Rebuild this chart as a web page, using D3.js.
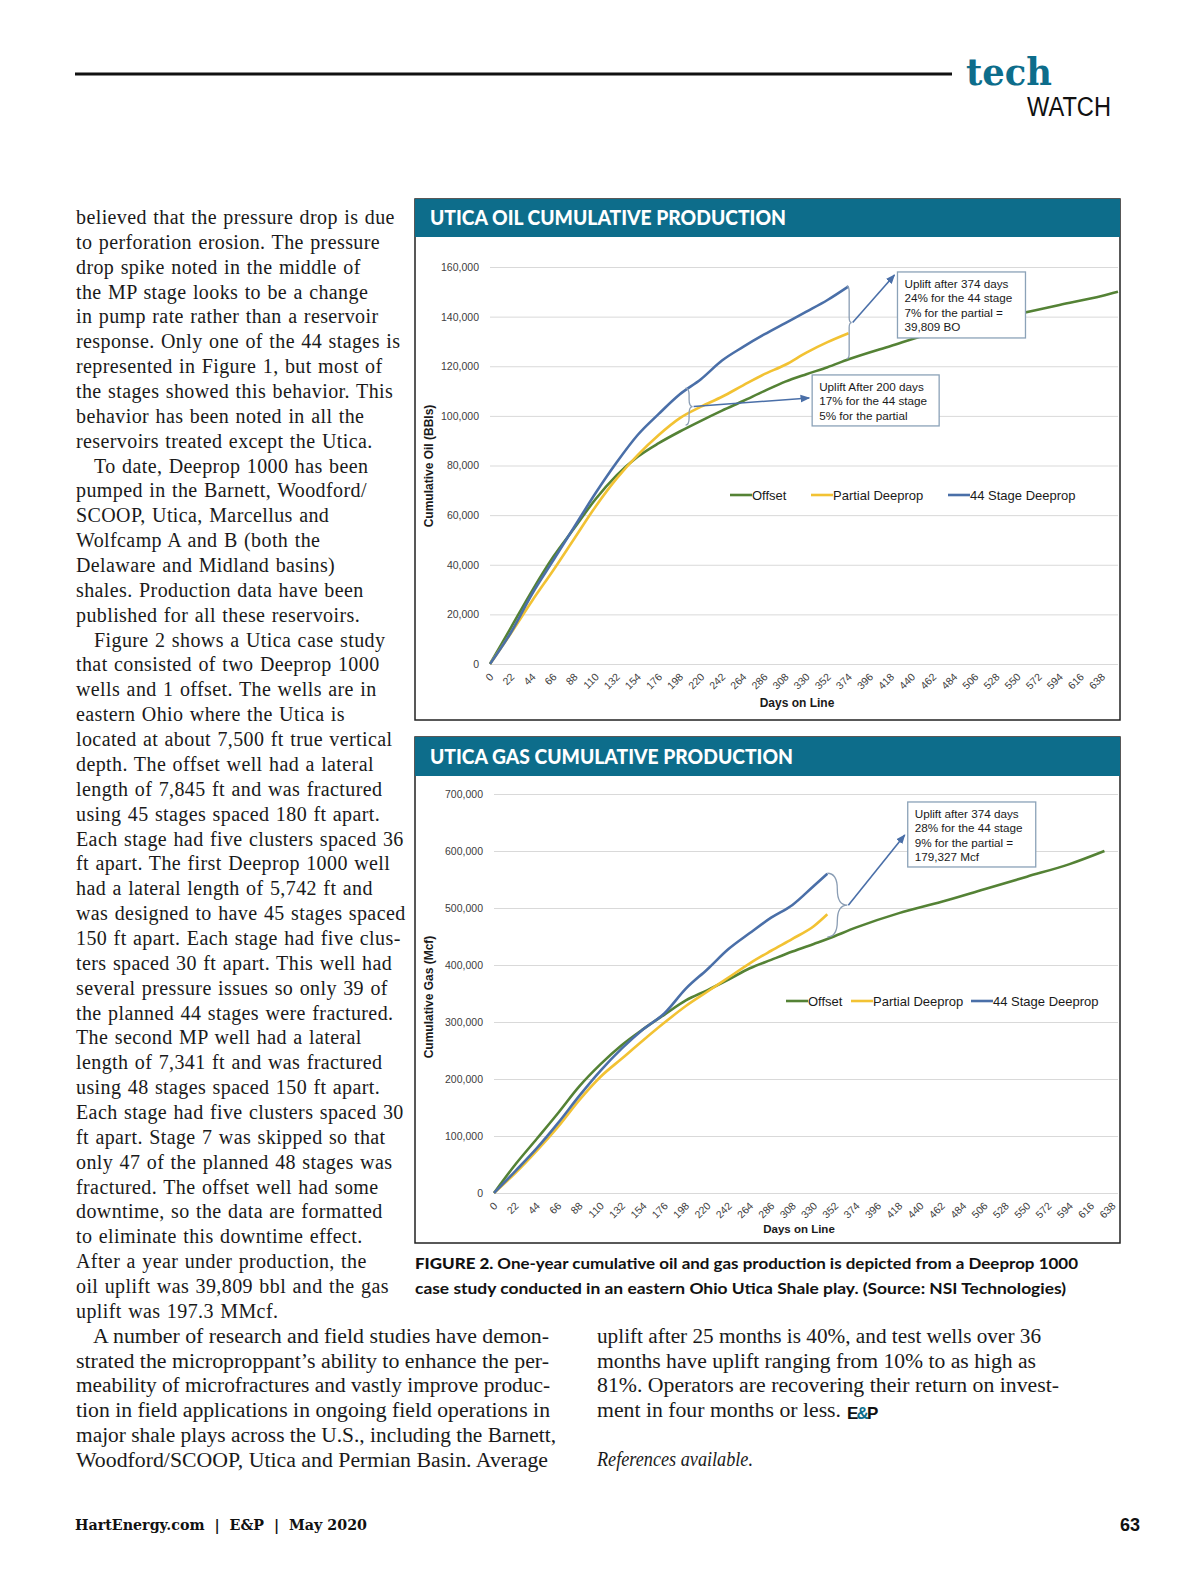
<!DOCTYPE html>
<html>
<head>
<meta charset="utf-8">
<script src="https://cdn.jsdelivr.net/npm/d3@7"></script>
<style>
  html, body { margin: 0; padding: 0; overflow: hidden; background: #fff; }
  svg { display: block; }
</style>
</head>
<body>
<svg id="page"></svg>
<script>
const WIDTH = 1200;
const HEIGHT = 1575;
const TEAL = '#0d6d8b';
const SANS = '"Liberation Sans", Arial, sans-serif';
const SERIF = '"Liberation Serif", "Times New Roman", serif';
const HEAVY = 'Lato, "Noto Sans", sans-serif';

// ---- chart data ----
const seriesNames = ['Offset', 'Partial Deeprop', '44 Stage Deeprop'];
const seriesColors = ['#548235', '#f2c233', '#4a6fa8'];

const dayTicks = d3.range(0, 639, 22); // 0, 22, ... 638

const oilDays = [0, 22, 44, 66, 88, 110, 132, 154, 176, 198, 220, 242, 264, 286, 308, 330, 352, 374,
  418, 462, 506, 550, 594, 638, 655];
const oilOffset = [0, 14800, 29600, 43200, 54800, 66400, 76000, 83500, 89000, 93700, 98000, 102100,
  106000, 110000, 113800, 116800, 119600, 122800, 128200, 133400, 137300, 141000, 144700, 148300, 150000];
const oilPartial = [0, 12500, 25500, 37800, 50600, 63400, 74700, 84200, 92300, 99100, 103700, 107700,
  112300, 116800, 120600, 125500, 129700, 133300];
const oilStage44 = [0, 12800, 28300, 41800, 55300, 68800, 81200, 92300, 100800, 108700, 114800, 122300,
  127800, 132800, 137400, 142000, 146700, 152200];
const oilTicks = d3.range(0, 160001, 20000);

const gasDays = [0, 22, 44, 66, 88, 110, 132, 154, 176, 198, 220, 242, 264, 286, 308, 330, 344,
  374, 418, 462, 506, 550, 594, 630];
const gasOffset = [0, 50000, 94800, 140000, 187000, 226000, 259600, 287500, 313000, 337800, 355600,
  374600, 394200, 409000, 423600, 437000, 445600, 466000, 491000, 511000, 533000, 555000, 577000, 600000];
const gasPartial = [0, 35000, 74000, 116000, 163000, 204000, 236000, 268000, 299000, 328000, 353000,
  378000, 403000, 425000, 446000, 468000, 489000];
const gasStage44 = [0, 38400, 78200, 122500, 170300, 214700, 253700, 287200, 315400, 358500, 392200,
  428000, 456100, 483000, 505400, 538700, 560000];
const gasTicks = d3.range(0, 700001, 100000);

// annotation texts
const oilNote374 = ['Uplift after 374 days', '24% for the 44 stage', '7% for the partial =', '39,809 BO'];
const oilNote200 = ['Uplift After 200 days', '17% for the 44 stage', '5% for the partial'];
const gasNote374 = ['Uplift after 374 days', '28% for the 44 stage', '9% for the partial =', '179,327 Mcf'];

// ---- page text ----
const leftLines = [
  'believed that the pressure drop is due',
  'to perforation erosion. The pressure',
  'drop spike noted in the middle of',
  'the MP stage looks to be a change',
  'in pump rate rather than a reservoir',
  'response. Only one of the 44 stages is',
  'represented in Figure 1, but most of',
  'the stages showed this behavior. This',
  'behavior has been noted in all the',
  'reservoirs treated except the Utica.',
  'To date, Deeprop 1000 has been',
  'pumped in the Barnett, Woodford/',
  'SCOOP, Utica, Marcellus and',
  'Wolfcamp A and B (both the',
  'Delaware and Midland basins)',
  'shales. Production data have been',
  'published for all these reservoirs.',
  'Figure 2 shows a Utica case study',
  'that consisted of two Deeprop 1000',
  'wells and 1 offset. The wells are in',
  'eastern Ohio where the Utica is',
  'located at about 7,500 ft true vertical',
  'depth. The offset well had a lateral',
  'length of 7,845 ft and was fractured',
  'using 45 stages spaced 180 ft apart.',
  'Each stage had five clusters spaced 36',
  'ft apart. The first Deeprop 1000 well',
  'had a lateral length of 5,742 ft and',
  'was designed to have 45 stages spaced',
  '150 ft apart. Each stage had five clus-',
  'ters spaced 30 ft apart. This well had',
  'several pressure issues so only 39 of',
  'the planned 44 stages were fractured.',
  'The second MP well had a lateral',
  'length of 7,341 ft and was fractured',
  'using 48 stages spaced 150 ft apart.',
  'Each stage had five clusters spaced 30',
  'ft apart. Stage 7 was skipped so that',
  'only 47 of the planned 48 stages was',
  'fractured. The offset well had some',
  'downtime, so the data are formatted',
  'to eliminate this downtime effect.',
  'After a year under production, the',
  'oil uplift was 39,809 bbl and the gas',
  'uplift was 197.3 MMcf.'
];
const indentedLines = [10, 17];
const bottomLines = [
  'A number of research and field studies have demon-',
  'strated the microproppant\u2019s ability to enhance the per-',
  'meability of microfractures and vastly improve produc-',
  'tion in field applications in ongoing field operations in',
  'major shale plays across the U.S., including the Barnett,',
  'Woodford/SCOOP, Utica and Permian Basin. Average'
];
const bottomWidths = [456, 473, 474, 474, 480, 472];
const rightLines = [
  'uplift after 25 months is 40%, and test wells over 36',
  'months have uplift ranging from 10% to as high as',
  '81%. Operators are recovering their return on invest-',
  'ment in four months or less.'
];
const rightWidths = [444, 439, 462, 244];
const captionLines = [
  'One-year cumulative oil and gas production is depicted from a Deeprop 1000',
  'case study conducted in an eastern Ohio Utica Shale play. (Source: NSI Technologies)'
];

const svg = d3.select('#page')
  .attr('width', WIDTH)
  .attr('height', HEIGHT)
  .attr('viewBox', `0 0 ${WIDTH} ${HEIGHT}`);

svg.append('rect').attr('width', WIDTH).attr('height', HEIGHT).attr('fill', '#fff');

// arrow head used by the callouts
svg.append('defs').append('marker')
  .attr('id', 'arrow')
  .attr('viewBox', '0 0 10 10')
  .attr('refX', 9).attr('refY', 5)
  .attr('markerWidth', 6).attr('markerHeight', 6)
  .attr('orient', 'auto')
  .append('path').attr('d', 'M0,1 L10,5 L0,9 Z').attr('fill', '#4a6fa8');

// ---- masthead ----
svg.append('line')
  .attr('x1', 75).attr('x2', 952).attr('y1', 74).attr('y2', 74)
  .attr('stroke', '#111').attr('stroke-width', 3);
svg.append('text')
  .attr('x', 966).attr('y', 85)
  .attr('font-family', '"DejaVu Serif", serif').attr('font-weight', 'bold')
  .attr('font-size', 38).attr('fill', TEAL)
  .attr('textLength', 86).attr('lengthAdjust', 'spacingAndGlyphs')
  .text('tech');
svg.append('text')
  .attr('x', 1027).attr('y', 116)
  .attr('font-family', '"Liberation Sans Narrow", "Liberation Sans", sans-serif')
  .attr('font-size', 27).attr('fill', '#111')
  .attr('textLength', 84).attr('lengthAdjust', 'spacingAndGlyphs')
  .text('WATCH');

// ---- body text ----
const LINE = 24.86;
const body = svg.append('g')
  .attr('font-family', SERIF).attr('font-size', 20).attr('fill', '#1a1a1a');

body.selectAll('.left')
  .data(leftLines)
  .join('text')
  .attr('class', 'left')
  .attr('x', (_, i) => indentedLines.includes(i) ? 94 : 76)
  .attr('y', (_, i) => 224 + i * LINE)
  .attr('letter-spacing', 0.4)
  .attr('word-spacing', 1)
  .text(d => d);

body.selectAll('.bottom')
  .data(bottomLines)
  .join('text')
  .attr('class', 'bottom')
  .attr('x', (_, i) => i === 0 ? 93 : 76)
  .attr('y', (_, i) => 1343 + i * 24.7)
  .attr('textLength', (_, i) => bottomWidths[i])
  .attr('lengthAdjust', 'spacingAndGlyphs')
  .text(d => d);

body.selectAll('.right')
  .data(rightLines)
  .join('text')
  .attr('class', 'right')
  .attr('x', 597)
  .attr('y', (_, i) => 1343 + i * 24.7)
  .attr('textLength', (_, i) => rightWidths[i])
  .attr('lengthAdjust', 'spacingAndGlyphs')
  .text(d => d);

const logo = body.append('text')
  .attr('x', 847).attr('y', 1419)
  .attr('font-family', SANS).attr('font-weight', 'bold').attr('font-size', 17)
  .attr('letter-spacing', -1.8).attr('fill', '#111');
logo.append('tspan').text('E');
logo.append('tspan').attr('fill', TEAL).text('&');
logo.append('tspan').text('P');

body.append('text')
  .attr('x', 597).attr('y', 1466)
  .attr('font-style', 'italic')
  .attr('textLength', 156).attr('lengthAdjust', 'spacingAndGlyphs')
  .text('References available.');

// ---- caption ----
const caption = svg.append('g')
  .attr('font-family', HEAVY).attr('font-weight', 700).attr('font-size', 15).attr('fill', '#111');
const cap1 = caption.append('text')
  .attr('x', 415).attr('y', 1269)
  .attr('textLength', 663).attr('lengthAdjust', 'spacingAndGlyphs');
cap1.append('tspan').attr('font-weight', 900).text('FIGURE 2. ');
cap1.append('tspan').text(captionLines[0]);
caption.append('text')
  .attr('x', 415).attr('y', 1294)
  .attr('textLength', 651).attr('lengthAdjust', 'spacingAndGlyphs')
  .text(captionLines[1]);

// ---- footer ----
svg.append('text')
  .attr('x', 75).attr('y', 1530)
  .attr('font-family', '"DejaVu Serif", serif').attr('font-weight', 'bold')
  .attr('font-size', 14).attr('fill', '#111')
  .attr('textLength', 292).attr('lengthAdjust', 'spacingAndGlyphs')
  .attr('xml:space', 'preserve')
  .text('HartEnergy.com  |  E&P  |  May 2020');
svg.append('text')
  .attr('x', 1140).attr('y', 1531)
  .attr('text-anchor', 'end')
  .attr('font-family', SANS).attr('font-weight', 'bold')
  .attr('font-size', 18).attr('fill', '#111')
  .text('63');

// ---- helpers for the charts ----
function bracePath(x, yTop, yBot, w) {
  const ym = (yTop + yBot) / 2;
  const q = Math.min(w, (yBot - yTop) / 4);
  const xm = x + w / 2;
  return `M${x},${yTop} Q${xm},${yTop} ${xm},${yTop + q} L${xm},${ym - q} ` +
    `Q${xm},${ym} ${x + w},${ym} Q${xm},${ym} ${xm},${ym + q} ` +
    `L${xm},${yBot - q} Q${xm},${yBot} ${x},${yBot}`;
}

function drawNote(g, x, y, w, h, lines) {
  g.append('rect')
    .attr('x', x).attr('y', y).attr('width', w).attr('height', h)
    .attr('fill', '#fff').attr('stroke', '#8ba2b8').attr('stroke-width', 1.3);
  g.append('g')
    .attr('font-family', SANS).attr('font-size', 11.7).attr('fill', '#1a1a1a')
    .selectAll('text')
    .data(lines)
    .join('text')
    .attr('x', x + 7)
    .attr('y', (_, i) => y + 16 + i * 14.3)
    .text(d => d);
}

function drawChart(cfg) {
  const g = svg.append('g');
  const [x0, x1] = cfg.xRange;
  const [y0, y1] = cfg.yRange;

  // frame and title band
  g.append('rect')
    .attr('x', 415).attr('y', cfg.boxTop)
    .attr('width', 705).attr('height', cfg.boxBottom - cfg.boxTop)
    .attr('fill', '#fff').attr('stroke', '#222').attr('stroke-width', 1.5);
  g.append('rect')
    .attr('x', 415).attr('y', cfg.boxTop)
    .attr('width', 705).attr('height', cfg.band)
    .attr('fill', TEAL);
  g.append('text')
    .attr('x', 430).attr('y', cfg.boxTop + cfg.band / 2 + 7)
    .attr('font-family', HEAVY).attr('font-weight', 900).attr('font-size', 20)
    .attr('fill', '#fff')
    .attr('textLength', cfg.titleWidth).attr('lengthAdjust', 'spacingAndGlyphs')
    .text(cfg.title);

  const xScale = d3.scaleLinear().domain([0, cfg.xMax]).range([x0, x1]);
  const yScale = d3.scaleLinear().domain([0, cfg.yMax]).range([y0, y1]);

  // y axis with gridlines
  const yAxis = d3.axisLeft(yScale)
    .tickValues(cfg.yTicks)
    .tickFormat(d3.format(','))
    .tickSize(-(x1 - x0))
    .tickPadding(11);
  const gy = g.append('g').attr('transform', `translate(${x0},0)`).call(yAxis);
  gy.select('.domain').remove();
  gy.selectAll('.tick line').attr('stroke', '#d9d9d9').attr('stroke-width', 1);
  gy.selectAll('.tick text')
    .attr('font-family', SANS).attr('font-size', 10.5).attr('fill', '#404040');

  // x axis, rotated day labels
  const xAxis = d3.axisBottom(xScale).tickValues(dayTicks).tickSize(0).tickPadding(0);
  const gx = g.append('g').attr('transform', `translate(0,${y0})`).call(xAxis);
  gx.select('.domain').remove();
  gx.selectAll('.tick text')
    .attr('font-family', SANS).attr('font-size', 10.5).attr('fill', '#404040')
    .attr('text-anchor', 'end')
    .attr('x', 0).attr('y', 0).attr('dy', '0.35em')
    .attr('transform', 'translate(1,11) rotate(-45)');

  // axis titles
  g.append('text')
    .attr('transform', `translate(${cfg.yTitleX},${cfg.yTitleY}) rotate(-90)`)
    .attr('text-anchor', 'middle')
    .attr('font-family', SANS).attr('font-weight', 'bold').attr('font-size', 12)
    .attr('fill', '#1a1a1a')
    .text(cfg.yTitle);
  g.append('text')
    .attr('x', (x0 + x1) / 2 - 7).attr('y', cfg.xTitleY)
    .attr('text-anchor', 'middle')
    .attr('font-family', SANS).attr('font-weight', 'bold').attr('font-size', cfg.xTitleSize)
    .attr('fill', '#1a1a1a')
    .text('Days on Line');

  // series lines
  const line = d3.line()
    .x(d => xScale(d[0]))
    .y(d => yScale(d[1]))
    .curve(d3.curveMonotoneX);
  cfg.series.forEach((values, k) => {
    const points = values.map((v, i) => [cfg.days[i], v]);
    g.append('path')
      .datum(points)
      .attr('fill', 'none')
      .attr('stroke', seriesColors[k])
      .attr('stroke-width', 2.6)
      .attr('stroke-linejoin', 'round')
      .attr('d', line);
  });

  // legend
  const legend = g.append('g')
    .attr('font-family', SANS).attr('font-size', 13).attr('fill', '#1a1a1a');
  seriesNames.forEach((name, k) => {
    const lx = cfg.legendX[k];
    legend.append('line')
      .attr('x1', lx).attr('x2', lx + 22)
      .attr('y1', cfg.legendY).attr('y2', cfg.legendY)
      .attr('stroke', seriesColors[k]).attr('stroke-width', 2.6);
    legend.append('text')
      .attr('x', lx + 22).attr('y', cfg.legendY + 4.5)
      .text(name);
  });

  // callouts
  cfg.notes.forEach(n => {
    const bx = xScale(n.braceDay);
    const bTop = yScale(n.braceTop);
    const bBot = yScale(n.braceBottom);
    g.append('path')
      .attr('d', bracePath(bx, bTop, bBot, n.braceWidth))
      .attr('fill', 'none').attr('stroke', '#8a9db4').attr('stroke-width', 1.3);
    const boxX = xScale(n.boxDay);
    const boxY = yScale(n.boxValue);
    g.append('line')
      .attr('x1', bx + n.braceWidth + 1).attr('y1', (bTop + bBot) / 2)
      .attr('x2', boxX - 3).attr('y2', boxY + n.arrowOffset)
      .attr('stroke', '#4a6fa8').attr('stroke-width', 1.6)
      .attr('marker-end', 'url(#arrow)');
    drawNote(g, boxX, boxY, n.boxW, n.boxH, n.lines);
  });
}

drawChart({
  boxTop: 199, boxBottom: 720, band: 38,
  title: 'UTICA OIL CUMULATIVE PRODUCTION', titleWidth: 356,
  xRange: [490, 1118], xMax: 655,
  yRange: [664, 267], yMax: 160000, yTicks: oilTicks,
  days: oilDays, series: [oilOffset, oilPartial, oilStage44],
  yTitle: 'Cumulative Oil (BBls)', yTitleX: 433, yTitleY: 466,
  xTitleY: 707, xTitleSize: 12,
  legendY: 495, legendX: [730, 811, 948],
  notes: [
    { braceDay: 372, braceTop: 152200, braceBottom: 123000, braceWidth: 5,
      boxDay: 425, boxValue: 158000, boxW: 128, boxH: 66, arrowOffset: 3, lines: oilNote374 },
    { braceDay: 204, braceTop: 111200, braceBottom: 96300, braceWidth: 7,
      boxDay: 336, boxValue: 116500, boxW: 127, boxH: 51, arrowOffset: 23, lines: oilNote200 }
  ]
});

drawChart({
  boxTop: 737, boxBottom: 1243, band: 39,
  title: 'UTICA GAS CUMULATIVE PRODUCTION', titleWidth: 363,
  xRange: [494, 1118], xMax: 644,
  yRange: [1193, 794], yMax: 700000, yTicks: gasTicks,
  days: gasDays, series: [gasOffset, gasPartial, gasStage44],
  yTitle: 'Cumulative Gas (Mcf)', yTitleX: 433, yTitleY: 997,
  xTitleY: 1233, xTitleSize: 11.5,
  legendY: 1001, legendX: [786, 851, 971],
  notes: [
    { braceDay: 344, braceTop: 561000, braceBottom: 449000, braceWidth: 20,
      boxDay: 427, boxValue: 686000, boxW: 128, boxH: 65, arrowOffset: 33, lines: gasNote374 }
  ]
});
</script>
</body>
</html>
